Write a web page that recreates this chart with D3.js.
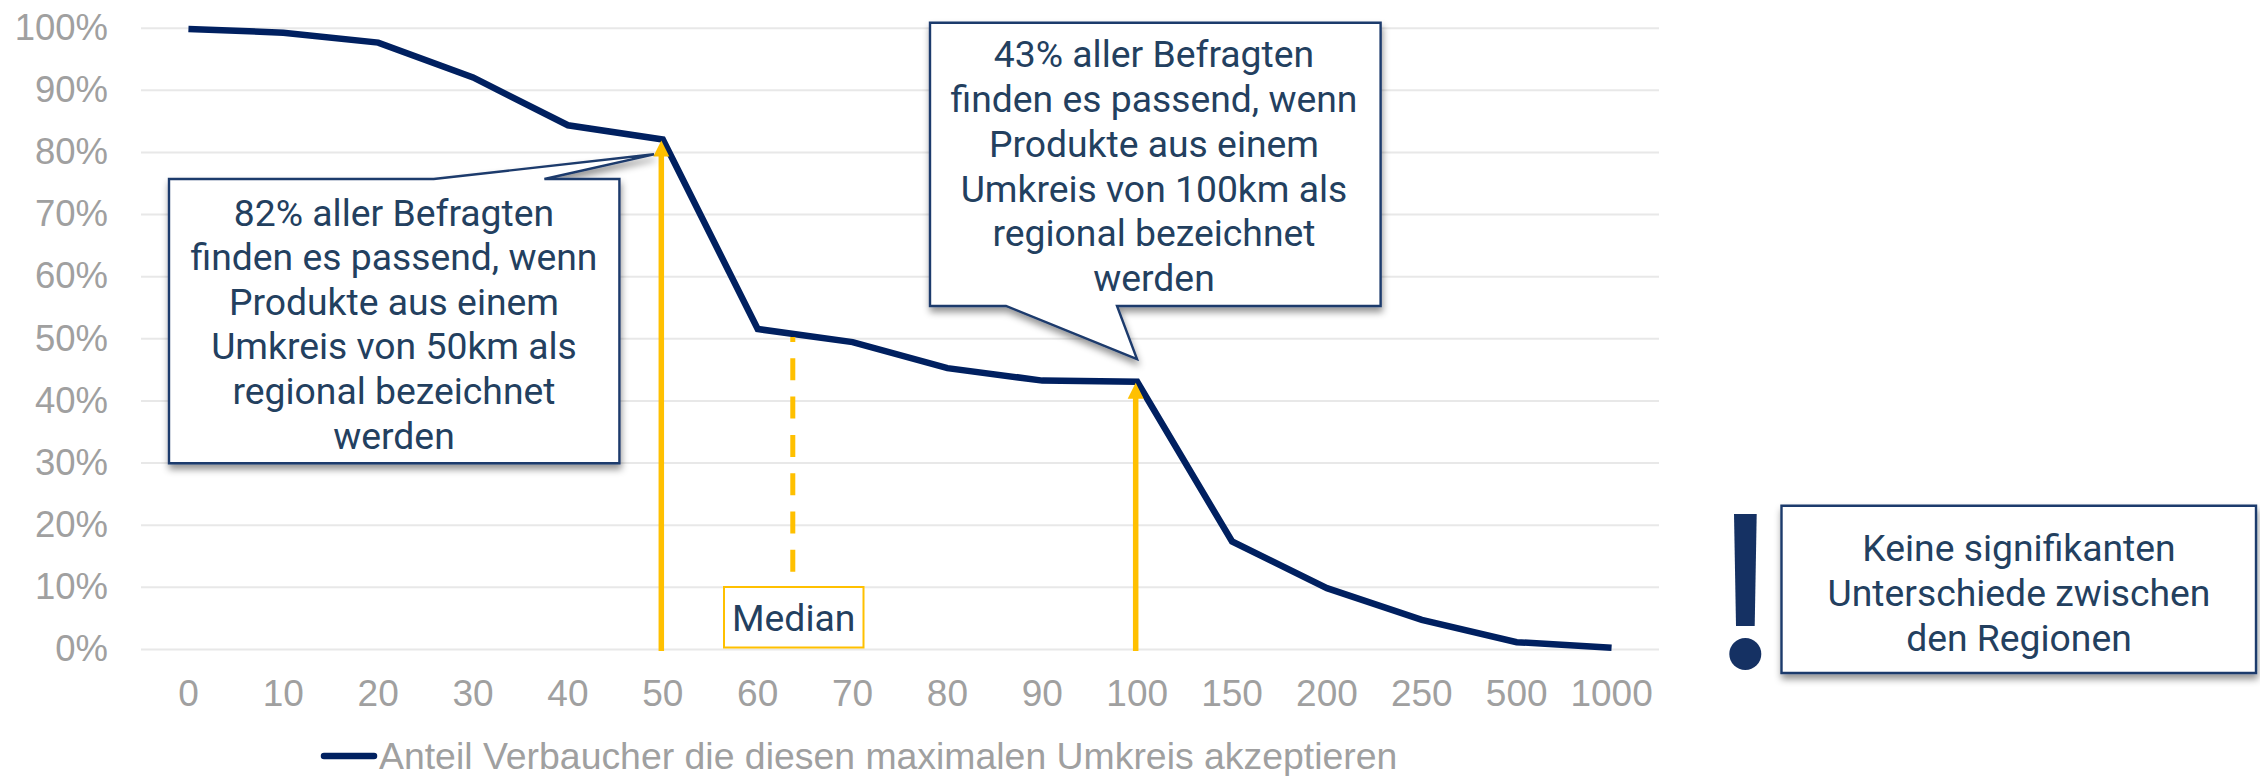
<!DOCTYPE html>
<html lang="de">
<head>
<meta charset="utf-8">
<script src="https://cdn.jsdelivr.net/npm/d3@7/dist/d3.min.js"></script>
<style>
html,body{margin:0;padding:0;background:#fff}
svg{display:block}
.tick text,.legend{font-family:"Liberation Sans",Arial,sans-serif;fill:#A0A0A0}
.ya .tick text{font-size:36.5px}
.xa .tick text{font-size:37px}
.legend{font-size:37.4px}
.note{font-family:Roboto,sans-serif;font-size:37.3px;fill:#23405F;text-anchor:middle;dominant-baseline:central}
</style>
</head>
<body>
<svg id="c" width="2260" height="776"></svg>
<script>
const categories = ["0","10","20","30","40","50","60","70","80","90","100","150","200","250","500","1000"];
const shares = [99.8,99.2,97.6,92,84.3,82,51.5,49.4,45.2,43.2,43,17.3,9.8,4.7,1.1,0.2];
const percentTicks = [0,10,20,30,40,50,60,70,80,90,100];
const highlighted = [{cat:"50",val:82},{cat:"100",val:43}];
const medianKm = 63.7;
const legendLabel = "Anteil Verbaucher die diesen maximalen Umkreis akzeptieren";
const note50 = ["82% aller Befragten","finden es passend, wenn","Produkte aus einem","Umkreis von 50km als","regional bezeichnet","werden"];
const note100 = ["43% aller Befragten","finden es passend, wenn","Produkte aus einem","Umkreis von 100km als","regional bezeichnet","werden"];
const noteRegion = ["Keine signifikanten","Unterschiede zwischen","den Regionen"];

const navy="#002060", gold="#FFC000", edge="#1D3A6C", grid="#E8E8E8", mark="#153163";
const svg=d3.select("#c");
const defs=svg.append("defs");
const f=defs.append("filter").attr("id","sh").attr("x","-10%").attr("y","-10%").attr("width","125%").attr("height","125%");
f.append("feDropShadow").attr("dx",1).attr("dy",5).attr("stdDeviation",3.5).attr("flood-color","#000").attr("flood-opacity",.42);

const x=d3.scaleBand().domain(categories).range([141,1659]);
const cx=c=>x(c)+x.bandwidth()/2;
const y=d3.scaleLinear().domain([0,100]).range([649,27.7]);

// gridlines + y axis
const ya=svg.append("g").attr("class","ya").attr("transform","translate(141,0)")
 .call(d3.axisLeft(y).tickValues(percentTicks).tickFormat(d=>d+"%").tickSize(-1518).tickPadding(33));
ya.select(".domain").remove();
ya.selectAll("line").attr("stroke",grid).attr("stroke-width",2);
// x axis
const xa=svg.append("g").attr("class","xa").attr("transform","translate(0,693)")
 .call(d3.axisBottom(x).tickSize(0).tickPadding(0));
xa.select(".domain").remove();
xa.selectAll("text").attr("y",0).attr("dy","0.36em");

// series
svg.append("path").attr("d",d3.line().x((d,i)=>cx(categories[i])).y(d=>y(d))(shares))
 .attr("fill","none").attr("stroke",navy).attr("stroke-width",6.5).attr("stroke-linejoin","miter");

// arrows
highlighted.forEach(h=>{
  const px=cx(h.cat)-1.5, py=y(h.val)+1;
  svg.append("line").attr("x1",px).attr("x2",px).attr("y1",y(0)+2).attr("y2",py+12)
    .attr("stroke",gold).attr("stroke-width",5.5);
  svg.append("path").attr("d",d3.line()([[px,py],[px+8,py+16],[px-8,py+16]])+"Z").attr("fill",gold);
});

// median
const mx=d3.scaleLinear().domain([60,70]).range([cx("60"),cx("70")])(medianKm);
svg.append("line").attr("x1",mx).attr("x2",mx).attr("y1",337).attr("y2",587)
 .attr("stroke",gold).attr("stroke-width",5).attr("stroke-dasharray","22 16.3").attr("stroke-dashoffset",17);
svg.append("rect").attr("x",724).attr("y",587).attr("width",139.5).attr("height",60.5)
 .attr("fill","#fff").attr("stroke",gold).attr("stroke-width",2);
svg.append("text").attr("class","note").attr("x",793.7).attr("y",617.5).text("Median");

// callouts
function callout(pts,lines,cxp,ys){
  svg.append("path").attr("d",d3.line()(pts)+"Z").attr("fill","#fff").attr("stroke",edge)
    .attr("stroke-width",2.4).attr("stroke-linejoin","miter").attr("filter","url(#sh)");
  lines.forEach((t,i)=>svg.append("text").attr("class","note").attr("x",cxp).attr("y",ys[i]).text(t));
}
callout([[169,179],[433.7,179],[654,154.3],[544.4,179],[619.4,179],[619.4,463.3],[169,463.3]],
  note50,394,[212.5,257,301.5,346,390.5,435.5]);
callout([[930,22.7],[1380.6,22.7],[1380.6,306],[1117,306],[1137,359],[1006,306],[930,306]],
  note100,1154,[54.3,99,143.8,188.5,233,277.8]);
callout([[1781.5,505.7],[2256,505.7],[2256,673],[1781.5,673]],
  noteRegion,2019,[547.7,592.7,637.7]);

// exclamation mark
svg.append("path").attr("d",d3.line()([[1734,514],[1756.7,514],[1754.7,626],[1736,626]])+"Z").attr("fill",mark);
svg.append("circle").attr("cx",1745.3).attr("cy",654).attr("r",16).attr("fill",mark);

// legend
svg.append("line").attr("x1",324).attr("x2",374).attr("y1",756).attr("y2",756)
 .attr("stroke",navy).attr("stroke-width",6.5).attr("stroke-linecap","round");
svg.append("text").attr("class","legend").attr("x",379).attr("y",756).attr("dy","0.36em").text(legendLabel);
</script>
</body>
</html>
